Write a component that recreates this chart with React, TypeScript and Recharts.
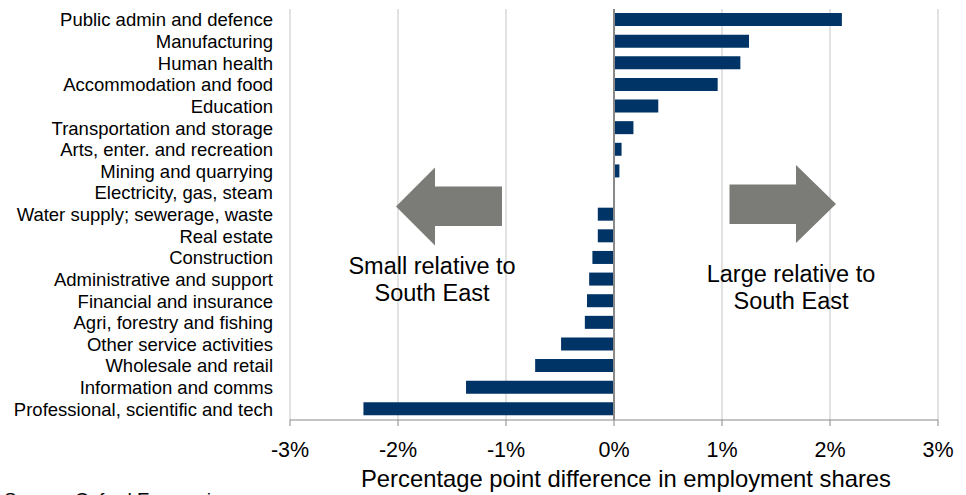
import { BarChart, Bar, XAxis, YAxis, CartesianGrid, ReferenceLine } from 'recharts'

const FONT = '"Liberation Sans", Arial, sans-serif'
const NAVY = '#003366'
const ARROW = '#7b7c77'
const AXIS_GREY = '#898989'
const GRID_GREY = '#d9d9d9'

const sectors = [
  'Public admin and defence',
  'Manufacturing',
  'Human health',
  'Accommodation and food',
  'Education',
  'Transportation and storage',
  'Arts, enter. and recreation',
  'Mining and quarrying',
  'Electricity, gas, steam',
  'Water supply; sewerage, waste',
  'Real estate',
  'Construction',
  'Administrative and support',
  'Financial and insurance',
  'Agri, forestry and fishing',
  'Other service activities',
  'Wholesale and retail',
  'Information and comms',
  'Professional, scientific and tech',
]

// percentage point gap vs South East
const gaps = [
  2.11, 1.25, 1.17, 0.96, 0.41, 0.18, 0.07, 0.05, 0,
  -0.15, -0.15, -0.2, -0.23, -0.25, -0.27, -0.49, -0.73, -1.37, -2.32,
]

const xTicks = [-3, -2, -1, 0, 1, 2, 3]

const rows = sectors.map((name, i) => ({ name, gap: gaps[i] }))

function SectorTick({ x, y, payload }: any) {
  return (
    <text x={x} y={y} dy="0.355em" textAnchor="end" fontSize={18.5} fontFamily={FONT} fill="#000">
      {payload.value}
    </text>
  )
}

function AxisTitle({ viewBox }: any) {
  return (
    <text
      x={viewBox.x + viewBox.width / 2 + 12}
      y={487}
      textAnchor="middle"
      fontSize={23.8}
      fontFamily={FONT}
      fill="#000"
    >
      Percentage point difference in employment shares
    </text>
  )
}

function Overlay() {
  const text = { fontFamily: FONT, fontSize: 23.5, fill: '#000', textAnchor: 'middle' as const }
  return (
    <svg
      width={966}
      height={495}
      style={{ position: 'absolute', left: 0, top: 0, pointerEvents: 'none' }}
    >
      <polygon
        points="396,206.5 435,167.5 435,186.5 502,186.5 502,226 435,226 435,245.5"
        fill={ARROW}
      />
      <polygon
        points="729.5,184.5 796,184.5 796,165 836,204 796,243 796,224 729.5,224"
        fill={ARROW}
      />
      <text x={432} y={274} {...text}>Small relative to</text>
      <text x={432} y={300.5} {...text}>South East</text>
      <text x={791} y={282} {...text}>Large relative to</text>
      <text x={791} y={309} {...text}>South East</text>
      {/* source line runs off the bottom edge of the frame */}
      <text x={4} y={506} fontFamily={FONT} fontSize={19} fill="#000">
        Source: Oxford Economics
      </text>
    </svg>
  )
}

export default function App() {
  return (
    <div style={{ position: 'absolute', left: 0, top: 0, width: 966, height: 495, background: '#fff' }}>
      <BarChart
        width={966}
        height={495}
        data={rows}
        layout="vertical"
        margin={{ top: 9, right: 28, bottom: 0, left: 0 }}
        barSize={13}
      >
        <CartesianGrid horizontal={false} stroke={GRID_GREY} strokeWidth={1.5} />
        <XAxis
          type="number"
          domain={[-3, 3]}
          ticks={xTicks}
          tickFormatter={(v: number) => `${v}%`}
          height={75}
          tickSize={6}
          tickMargin={16}
          stroke={AXIS_GREY}
          tick={{ fill: '#000', fontSize: 21.5, fontFamily: FONT }}
          label={<AxisTitle />}
        />
        <YAxis
          type="category"
          dataKey="name"
          width={290}
          axisLine={false}
          tickLine={false}
          tickSize={0}
          tickMargin={17}
          interval={0}
          tick={<SectorTick />}
        />
        <ReferenceLine x={0} stroke={AXIS_GREY} strokeWidth={2} />
        <Bar dataKey="gap" fill={NAVY} isAnimationActive={false} />
      </BarChart>
      <Overlay />
    </div>
  )
}
